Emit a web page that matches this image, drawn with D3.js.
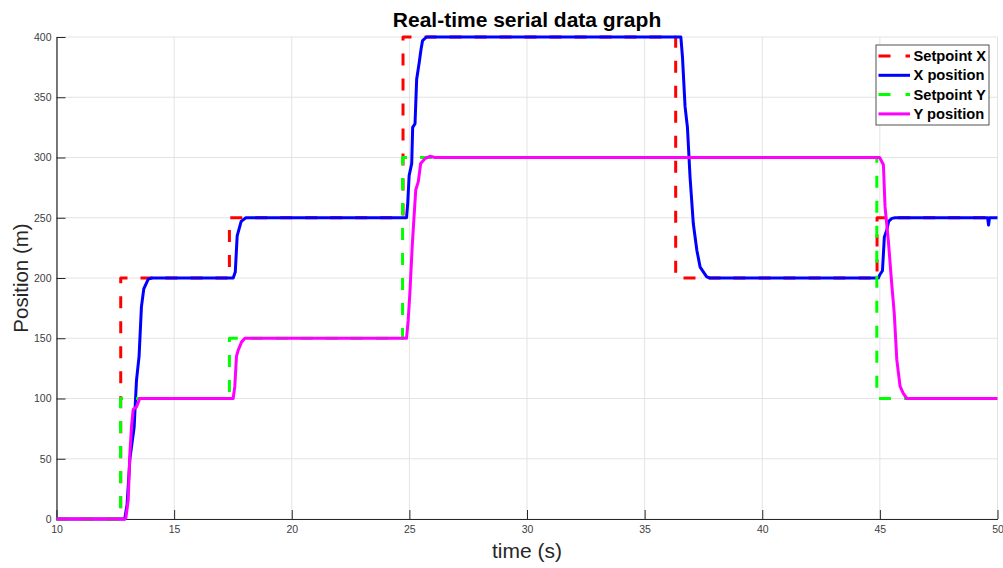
<!DOCTYPE html>
<html>
<head>
<meta charset="utf-8">
<script src="https://cdn.jsdelivr.net/npm/d3@7"></script>
<style>
  body { margin: 0; background: #fff; }
  svg { font-family: "Liberation Sans", Arial, sans-serif; }
  .axis path, .axis line { stroke: #262626; }
  .axis text { fill: #404040; font-size: 10.5px; }
  .grid line { stroke: #e3e3e3; stroke-width: 1; }
</style>
</head>
<body>
<div id="chart"></div>
<script>
/**
 * DATA  ([time s, position m])
 **/
const xTicks = [10, 15, 20, 25, 30, 35, 40, 45, 50];
const yTicks = [0, 50, 100, 150, 200, 250, 300, 350, 400];

const setpointX = [
  [10, 0], [12.73, 0], [12.73, 200], [17.35, 200], [17.35, 250],
  [24.73, 250], [24.73, 400], [36.32, 400], [36.32, 200],
  [44.88, 200], [44.88, 250], [50, 250]
];

const xPosition = [
  [10, 0], [12.9, 0], [13.0, 12], [13.12, 50], [13.3, 76], [13.4, 115],
  [13.51, 135], [13.61, 176], [13.71, 191], [13.9, 199], [14.05, 200],
  [17.51, 200], [17.6, 205], [17.68, 235], [17.85, 247], [18.05, 250],
  [24.88, 250], [24.93, 262], [24.99, 285], [25.1, 295], [25.14, 325],
  [25.24, 328], [25.31, 365], [25.42, 379], [25.49, 389], [25.56, 397],
  [25.73, 400], [36.54, 400], [36.61, 383], [36.72, 342], [36.82, 325],
  [36.93, 284], [37.07, 245], [37.22, 223], [37.36, 209], [37.64, 201],
  [37.78, 200], [44.94, 200], [44.99, 202.5], [45.11, 206], [45.19, 234],
  [45.3, 240], [45.37, 247], [45.51, 249.5], [45.65, 250], [49.58, 250],
  [49.62, 244], [49.66, 250], [50, 250]
];

const setpointY = [
  [10, 0], [12.72, 0], [12.72, 100], [17.35, 100], [17.35, 150],
  [24.71, 150], [24.71, 300], [44.87, 300], [44.87, 100], [50, 100]
];

const yPosition = [
  [10, 0], [12.91, 0], [12.95, 1], [13.05, 16], [13.12, 55], [13.19, 77],
  [13.26, 91], [13.4, 93], [13.54, 100], [17.51, 100], [17.58, 110],
  [17.65, 135], [17.72, 140], [17.87, 147], [18.01, 150], [24.88, 150],
  [24.95, 165], [25.02, 187], [25.12, 226], [25.19, 248], [25.27, 273],
  [25.38, 280], [25.48, 295], [25.66, 299], [25.87, 301], [26.09, 300],
  [44.99, 300], [45.15, 294], [45.22, 259], [45.36, 231], [45.5, 196],
  [45.61, 171], [45.72, 132], [45.86, 110], [46.0, 104], [46.15, 100],
  [50, 100]
];

const series = [
  { name: "Setpoint X", values: setpointX, color: "#ff0000", dash: "12,13" },
  { name: "X position", values: xPosition, color: "#0000ff", dash: null },
  { name: "Setpoint Y", values: setpointY, color: "#00ff00", dash: "12,13" },
  { name: "Y position", values: yPosition, color: "#ff00ff", dash: null }
];

/**
 * LAYOUT
 **/
const width = 1003, height = 568,
  margin = { top: 37, right: 5.5, bottom: 49, left: 56.5 };

const svg = d3.select("#chart").append("svg")
  .attr("width", width)
  .attr("height", height);

const xScale = d3.scaleLinear()
  .domain([10, 50])
  .range([margin.left, width - margin.right]);

const yScale = d3.scaleLinear()
  .domain([0, 400])
  .range([height - margin.bottom, margin.top]);

// grid
svg.append("g").attr("class", "grid")
  .selectAll("line.gx")
  .data(xTicks)
  .join("line")
  .attr("x1", d => xScale(d)).attr("x2", d => xScale(d))
  .attr("y1", yScale(0)).attr("y2", yScale(400));

svg.append("g").attr("class", "grid")
  .selectAll("line.gy")
  .data(yTicks)
  .join("line")
  .attr("x1", xScale(10)).attr("x2", xScale(50))
  .attr("y1", d => yScale(d)).attr("y2", d => yScale(d));

// axes (ticks pointing inward, no box)
svg.append("g")
  .attr("class", "axis x-axis")
  .attr("transform", `translate(0,${yScale(0)})`)
  .call(d3.axisBottom(xScale).tickValues(xTicks).tickSizeInner(-9).tickSizeOuter(0).tickPadding(7))
  .call(g => g.select(".domain").attr("stroke-width", 1.2));

svg.append("g")
  .attr("class", "axis y-axis")
  .attr("transform", `translate(${xScale(10)},0)`)
  .call(d3.axisLeft(yScale).tickValues(yTicks).tickSizeInner(-9).tickSizeOuter(0).tickPadding(5))
  .call(g => g.select(".domain").attr("stroke-width", 1.2));

// lines
const lineFunc = d3.line()
  .x(d => xScale(d[0]))
  .y(d => yScale(d[1]));

svg.append("g")
  .selectAll("path.trend")
  .data(series)
  .join("path")
  .attr("class", "trend")
  .attr("fill", "none")
  .attr("stroke", d => d.color)
  .attr("stroke-width", 3)
  .attr("stroke-linejoin", "round")
  .attr("stroke-dasharray", d => d.dash)
  .attr("d", d => lineFunc(d.values));

// titles
svg.append("text")
  .attr("x", (xScale(10) + xScale(50)) / 2)
  .attr("y", 27)
  .attr("text-anchor", "middle")
  .attr("font-weight", "bold")
  .attr("font-size", 21)
  .attr("fill", "#000")
  .text("Real-time serial data graph");

svg.append("text")
  .attr("x", (xScale(10) + xScale(50)) / 2)
  .attr("y", 558)
  .attr("text-anchor", "middle")
  .attr("font-size", 21)
  .attr("fill", "#262626")
  .text("time (s)");

svg.append("text")
  .attr("transform", `translate(28,${(yScale(0) + yScale(400)) / 2}) rotate(-90)`)
  .attr("text-anchor", "middle")
  .attr("font-size", 20.5)
  .attr("fill", "#262626")
  .text("Position (m)");

// legend
const legend = svg.append("g").attr("transform", "translate(876,45)");
legend.append("rect")
  .attr("width", 113).attr("height", 80)
  .attr("fill", "#fff").attr("stroke", "#262626").attr("stroke-width", 0.8);

const item = legend.selectAll("g.item")
  .data(series)
  .join("g")
  .attr("class", "item")
  .attr("transform", (d, i) => `translate(0,${11 + i * 19.3})`);

item.append("line")
  .attr("x1", 2.5).attr("x2", 34)
  .attr("stroke", d => d.color)
  .attr("stroke-width", 3)
  .attr("stroke-dasharray", d => d.dash ? "12,15" : null);

item.append("text")
  .attr("x", 37.5)
  .attr("y", 5)
  .attr("font-size", 14.7)
  .attr("font-weight", "bold")
  .attr("fill", "#000")
  .text(d => d.name);
</script>
</body>
</html>
